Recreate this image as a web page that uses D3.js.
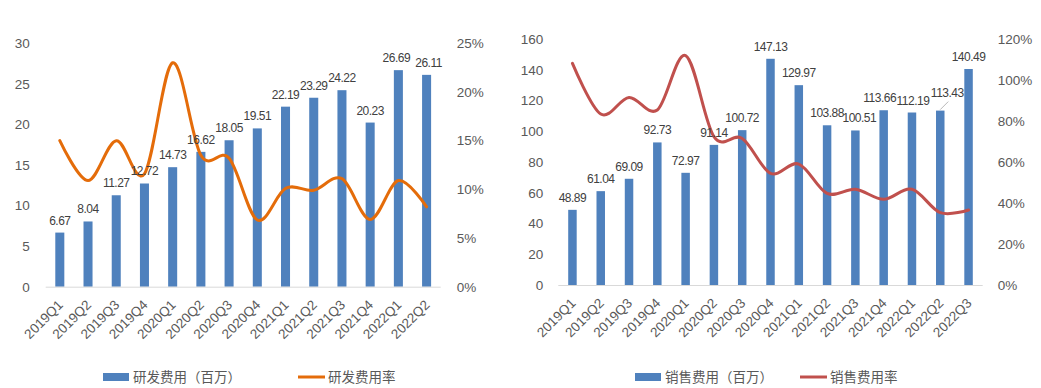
<!DOCTYPE html>
<html><head><meta charset="utf-8">
<script src="https://cdn.jsdelivr.net/npm/d3@7"></script>
<style>
html,body{margin:0;padding:0;background:#fff;}
svg{display:block;}
text{font-family:"Liberation Sans",Arial,sans-serif;}
.cjk{font-family:"Noto Sans CJK SC","Liberation Sans",sans-serif;}
.dl{font-family:"Liberation Sans",Arial,sans-serif;letter-spacing:-0.5px;}
</style></head>
<body>
<svg id="c" width="1041" height="388"></svg>
<script>
// ---- data ----
const rdQuarters = ["2019Q1","2019Q2","2019Q3","2019Q4","2020Q1","2020Q2","2020Q3","2020Q4","2021Q1","2021Q2","2021Q3","2021Q4","2022Q1","2022Q2"];
const rdExpense = [6.67,8.04,11.27,12.72,14.73,16.62,18.05,19.51,22.19,23.29,24.22,20.23,26.69,26.11];
const rdRate = [0.150,0.109,0.150,0.116,0.230,0.135,0.132,0.0685,0.101,0.099,0.111,0.069,0.109,0.082];
const rdLeftTicks = [0,5,10,15,20,25,30];
const rdRightTicks = [0,0.05,0.10,0.15,0.20,0.25];

const salesQuarters = ["2019Q1","2019Q2","2019Q3","2019Q4","2020Q1","2020Q2","2020Q3","2020Q4","2021Q1","2021Q2","2021Q3","2021Q4","2022Q1","2022Q2","2022Q3"];
const salesExpense = [48.89,61.04,69.09,92.73,72.97,91.14,100.72,147.13,129.97,103.88,100.51,113.66,112.19,113.43,140.49];
const salesRate = [1.081,0.834,0.915,0.854,1.119,0.724,0.715,0.545,0.590,0.447,0.467,0.418,0.467,0.353,0.366];
const salesLeftTicks = [0,20,40,60,80,100,120,140,160];
const salesRightTicks = [0,0.2,0.4,0.6,0.8,1.0,1.2];

const legendRD = ["研发费用（百万）","研发费用率"];
const legendSales = ["销售费用（百万）","销售费用率"];

const svg = d3.select("#c");
const BAR = "#4F81BD";
const GRAY = "#595959";

function drawChart(cfg){
  const g = svg.append("g");
  const x = d3.scaleBand().domain(cfg.cats).range([cfg.x0,cfg.x1]).paddingInner(cfg.pad).paddingOuter(cfg.pad/2);
  const yL = d3.scaleLinear().domain([0,cfg.leftMax]).range([cfg.yB,cfg.yT]);
  const yR = d3.scaleLinear().domain([0,cfg.rightMax]).range([cfg.yB,cfg.yT]);

  // bars
  g.selectAll("rect.bar").data(cfg.vals).join("rect")
    .attr("x",(d,i)=>x(cfg.cats[i])).attr("width",x.bandwidth())
    .attr("y",d=>yL(d)).attr("height",d=>cfg.yB-yL(d)).attr("fill",BAR);

  // baseline
  g.append("line").attr("x1",cfg.x0).attr("x2",cfg.x1).attr("y1",cfg.yB+0.5).attr("y2",cfg.yB+0.5)
    .attr("stroke","#D9D9D9").attr("stroke-width",1);

  // left axis
  const la = d3.axisLeft(yL).tickValues(cfg.leftTicks).tickSize(0).tickPadding(0).tickFormat(d3.format("d"));
  const lag = g.append("g").attr("transform",`translate(${cfg.x0-cfg.labGap},0)`).call(la);
  lag.select(".domain").remove();
  lag.selectAll("text").attr("fill",GRAY).style("font-size","13.5px").style("font-family","Liberation Sans, Arial, sans-serif");

  // right axis
  const ra = d3.axisRight(yR).tickValues(cfg.rightTicks).tickSize(0).tickPadding(0).tickFormat(d3.format(".0%"));
  const rag = g.append("g").attr("transform",`translate(${cfg.x1+cfg.labGap},0)`).call(ra);
  rag.select(".domain").remove();
  rag.selectAll("text").attr("fill",GRAY).style("font-size","13.5px").style("font-family","Liberation Sans, Arial, sans-serif");

  // x axis labels
  const xa = d3.axisBottom(x).tickSize(0).tickPadding(0);
  const xag = g.append("g").attr("transform",`translate(0,${cfg.yB})`).call(xa);
  xag.select(".domain").remove();
  xag.selectAll("text").attr("fill",GRAY).style("font-size","13.5px").style("font-family","Liberation Sans, Arial, sans-serif")
    .attr("text-anchor","end").attr("dy","0")
    .attr("transform","translate(4,19) rotate(-45)");

  // line
  const line = d3.line().x((d,i)=>x(cfg.cats[i])+x.bandwidth()/2).y(d=>yR(d)).curve(d3.curveCardinal.tension(0));
  g.append("path").datum(cfg.rate).attr("d",line).attr("fill","none")
    .attr("stroke",cfg.lineColor).attr("stroke-width",3).attr("stroke-linejoin","round").attr("stroke-linecap","round");

  // data labels
  g.selectAll("text.dl").data(cfg.vals).join("text").attr("class","dl")
    .attr("x",(d,i)=>x(cfg.cats[i])+x.bandwidth()/2+(cfg.lift[i]?7:0)+(cfg.nudge[i]||0))
    .attr("y",(d,i)=>yL(d)-8-(cfg.lift[i]||0))
    .attr("text-anchor","middle").attr("fill","#404040").style("font-size","12px")
    .text(d=>d.toFixed(2));
  cfg.vals.forEach((d,i)=>{
    if(cfg.lift[i]){
      const cx = x(cfg.cats[i])+x.bandwidth()/2;
      g.append("line").attr("x1",cx).attr("y1",yL(d)-1).attr("x2",cx+8).attr("y2",yL(d)-9)
        .attr("stroke","#A6A6A6").attr("stroke-width",0.8);
    }
  });

  // legend
  const lg = g.append("g");
  lg.append("rect").attr("x",cfg.legX).attr("y",cfg.legY-4).attr("width",26).attr("height",8).attr("fill",BAR);
  lg.append("text").attr("class","cjk").attr("x",cfg.legX+30).attr("y",cfg.legY).attr("dy","0.35em")
    .attr("fill",GRAY).style("font-size","13.5px").text(cfg.legend[0]);
  lg.append("line").attr("x1",cfg.legX2).attr("x2",cfg.legX2+27).attr("y1",cfg.legY).attr("y2",cfg.legY)
    .attr("stroke",cfg.lineColor).attr("stroke-width",3);
  lg.append("text").attr("class","cjk").attr("x",cfg.legX2+30).attr("y",cfg.legY).attr("dy","0.35em")
    .attr("fill",GRAY).style("font-size","13.5px").text(cfg.legend[1]);
}

drawChart({cats:rdQuarters, vals:rdExpense, rate:rdRate, leftTicks:rdLeftTicks, rightTicks:rdRightTicks,
  leftMax:30, rightMax:0.25, x0:45.7, x1:440.7, yT:43.3, yB:286.7, pad:0.68, labGap:16,
  lineColor:"#E46C0A", legend:legendRD, legX:103, legX2:298, legY:377, lift:{}, nudge:{12:-2,13:2}});

drawChart({cats:salesQuarters, vals:salesExpense, rate:salesRate, leftTicks:salesLeftTicks, rightTicks:salesRightTicks,
  leftMax:160, rightMax:1.2, x0:558.3, x1:982.7, yT:39, yB:285, pad:0.70, labGap:15,
  lineColor:"#C0504D", legend:legendSales, legX:635, legX2:800, legY:377, lift:{13:6}, nudge:{10:4,11:-4,12:1}});
</script>
</body></html>
